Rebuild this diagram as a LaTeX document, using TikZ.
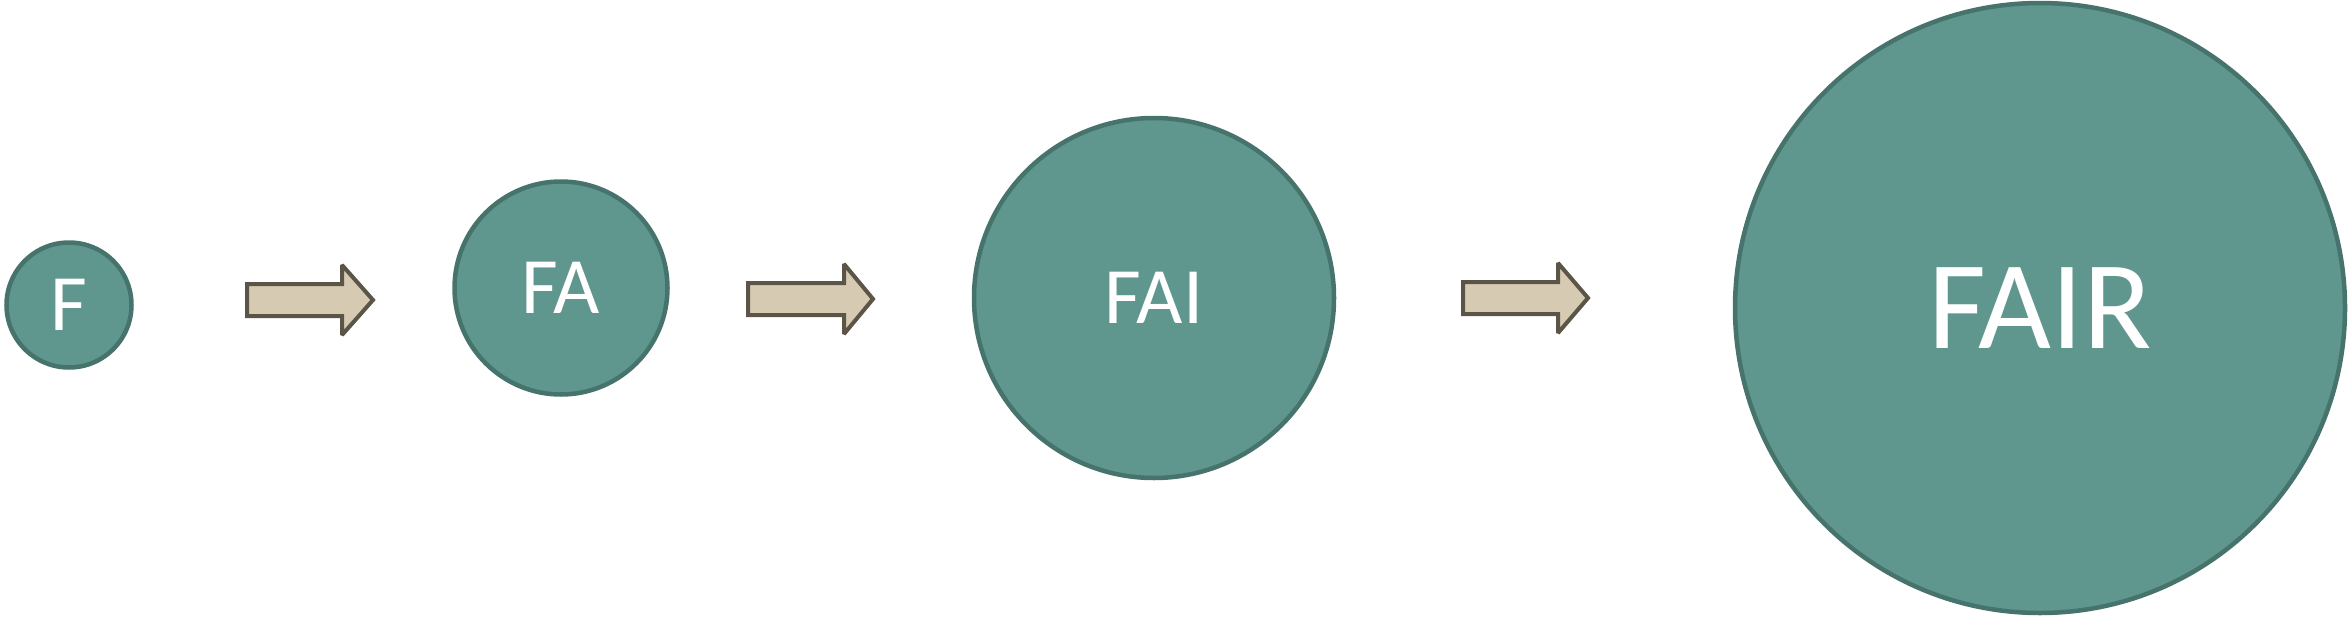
\documentclass[tikz,border=0pt]{standalone}
\usepackage{fontspec}
\setmainfont{Carlito}

\definecolor{tealfill}{HTML}{5F968D}
\definecolor{tealline}{HTML}{46736C}
\definecolor{sandfill}{HTML}{D6CAB2}
\definecolor{sandline}{HTML}{5B5547}

\begin{document}
\begin{tikzpicture}[
		x=1pt, y=-1pt
		,letter/.style={draw=tealline, fill=tealfill, circle, line width=4.5pt, inner sep=0pt, text=white}
		,small/.style={font=\fontsize{80}{96}\selectfont}
		,big/.style={font=\fontsize{126}{150}\selectfont}
		,push/.style={draw=sandline, fill=sandfill, line width=4pt, miter limit=2}
	]
		\useasboundingbox (0,0) rectangle (2348,616);

		\node[letter, small, minimum size=125pt] (F) at (69,305) {F};
		\node[letter, small, minimum size=213pt] (FA) at (561,288) {FA};
		\node[letter, small, minimum size=360pt] (FAI) at (1154,298) {FAI};
		\node[letter, big, minimum size=610pt] (FAIR) at (2040,308) {FAIR};

		% block arrows: tail, head start, tip, middle
		\foreach \t/\h/\e/\m [count=\i] in {247/342/373/300, 748/844/873/299, 1463/1558/1588/298}{
			\coordinate (tail\i) at (\t,\m);
			\coordinate (tip\i) at (\e,\m);
			\draw[push] (tail\i) ++(0,-16) -- (\h,\m-16) -- (\h,\m-35) -- (tip\i)
				-- (\h,\m+35) -- (\h,\m+16) -- (\t,\m+16) -- cycle;
		}
	\end{tikzpicture}
\end{document}
